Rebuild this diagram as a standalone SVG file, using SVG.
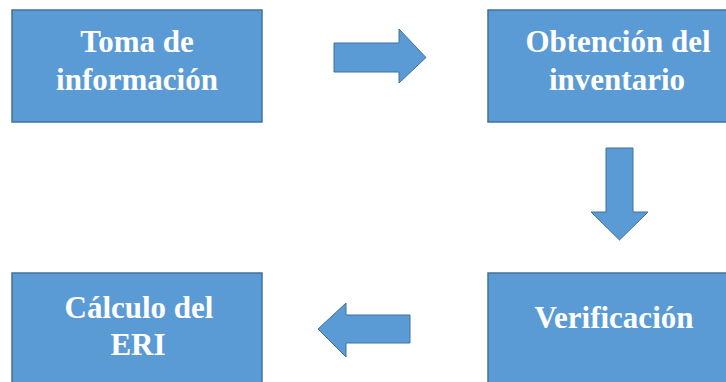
<svg xmlns="http://www.w3.org/2000/svg" width="726" height="382" viewBox="0 0 726 382">
  <style>
    .box { fill: #5B9BD5; stroke: #41719C; stroke-width: 1.5; }
    .arrow { fill: #5B9BD5; stroke: #41719C; stroke-width: 1; stroke-linejoin: miter; }
    .label { font-family: "Liberation Serif", "Times New Roman", serif; font-weight: bold; font-size: 31px; fill: #FFFFFF; text-anchor: middle; }
  </style>
  <rect width="726" height="382" fill="#FFFFFF"/>

  <g id="toma-informacion">
    <rect class="box" x="12" y="10" width="250" height="112"/>
    <text class="label" x="137" y="52">Toma de</text>
    <text class="label" x="137" y="90">información</text>
  </g>

  <g id="obtencion-inventario">
    <rect class="box" x="488" y="10" width="262" height="112"/>
    <text class="label" x="618" y="52">Obtención del</text>
    <text class="label" x="617" y="90">inventario</text>
  </g>

  <g id="verificacion">
    <rect class="box" x="488" y="273" width="262" height="120"/>
    <text class="label" x="614" y="328">Verificación</text>
  </g>

  <g id="calculo-eri">
    <rect class="box" x="12" y="273" width="250" height="120"/>
    <text class="label" x="139" y="318">Cálculo del</text>
    <text class="label" x="138" y="355">ERI</text>
  </g>

  <g id="connectors">
    <!-- right: Toma de información -> Obtención del inventario -->
    <polygon class="arrow" points="334,43 399,43 399,29 426,57.5 399,83 399,72 334,72"/>
    <!-- down: Obtención del inventario -> Verificación -->
    <polygon class="arrow" points="606,148 633,148 633,212 648,212 619.5,240 591,212 606,212"/>
    <!-- left: Verificación -> Cálculo del ERI -->
    <polygon class="arrow" points="410,315 346,315 346,303 318,329 346,357 346,343 410,343"/>
  </g>
</svg>
